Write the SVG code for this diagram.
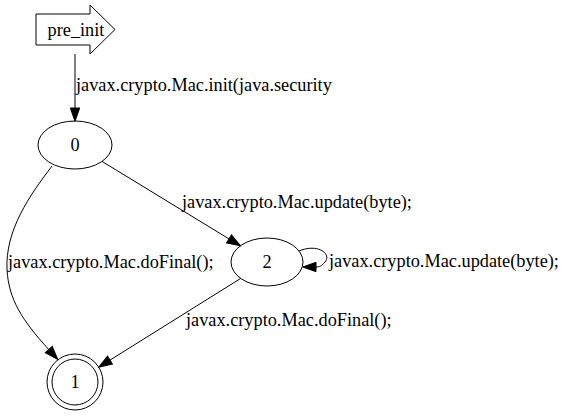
<svg xmlns="http://www.w3.org/2000/svg" width="568" height="417" viewBox="0 0 568 417">
<defs>
<style>
.n{fill:none;stroke:#000;stroke-width:1}
.e{fill:none;stroke:#000;stroke-width:1}
.t{font-family:'Liberation Serif','Times New Roman',Times,serif;font-size:18.3px;fill:#000}
.c{text-anchor:middle}
</style>
<marker id="ah" markerUnits="userSpaceOnUse" markerWidth="15" markerHeight="11" refX="0" refY="4.67" orient="auto" overflow="visible">
<path d="M0,0 L13.3,4.67 L0,9.33 Z" fill="#000" stroke="#000" stroke-width="1"/>
</marker>
</defs>
<rect width="568" height="417" fill="#fff"/>
<g id="pre_init">
<polygon class="n" points="36,14 90,14 90,5 115,29.5 90,54 90,45 36,45"/>
<text class="t c" font-family="Liberation Serif, serif" x="76" y="36">pre_init</text>
</g>
<g id="node0">
<ellipse class="n" cx="75" cy="145" rx="37" ry="24"/>
<text class="t c" font-family="Liberation Serif, serif" x="75" y="151">0</text>
</g>
<g id="node2">
<ellipse class="n" cx="267" cy="262" rx="36" ry="24"/>
<text class="t c" font-family="Liberation Serif, serif" x="267" y="268">2</text>
</g>
<g id="node1">
<circle class="n" cx="75" cy="382" r="23"/>
<circle class="n" cx="75" cy="382" r="28"/>
<text class="t c" font-family="Liberation Serif, serif" x="75" y="388">1</text>
</g>
<g id="connectors">
<path class="e" d="M75,54 L75,108" marker-end="url(#ah)"/>
<text class="t" font-family="Liberation Serif, serif" x="76" y="91">javax.crypto.Mac.init(java.security</text>
<path class="e" d="M102,161.4 L229,238.9" marker-end="url(#ah)"/>
<text class="t" font-family="Liberation Serif, serif" x="182" y="208">javax.crypto.Mac.update(byte);</text>
<path class="e" d="M299,251 C318,243 332,254 325,262 C322,266 319,267 316,267" marker-end="url(#ah)"/>
<text class="t" font-family="Liberation Serif, serif" x="329" y="267">javax.crypto.Mac.update(byte);</text>
<path class="e" d="M52,166 C30,195 5,230 7,270 C9,300 22,320 48.8,349.6" marker-end="url(#ah)"/>
<text class="t" font-family="Liberation Serif, serif" x="8" y="268">javax.crypto.Mac.doFinal();</text>
<path class="e" d="M240.7,278.4 L110,360.1" marker-end="url(#ah)"/>
<text class="t" font-family="Liberation Serif, serif" x="186" y="326">javax.crypto.Mac.doFinal();</text>
</g>
</svg>
